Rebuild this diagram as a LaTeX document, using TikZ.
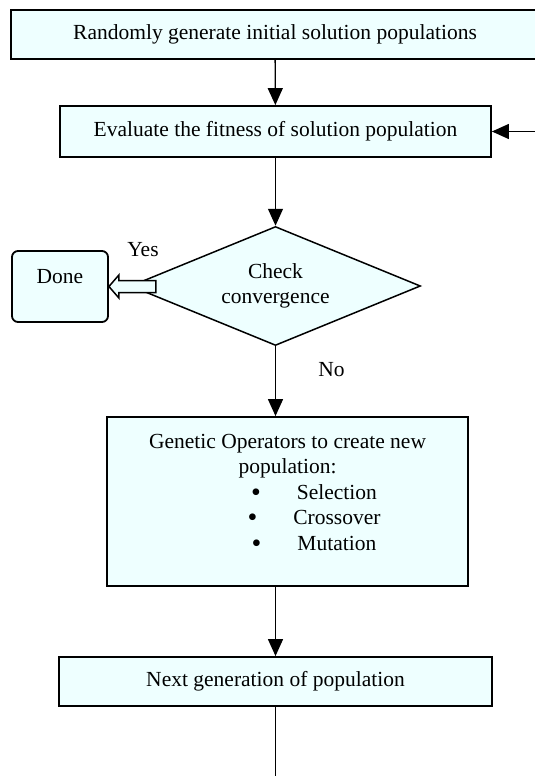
\documentclass[tikz,border=0pt]{standalone}
\usepackage{fontspec}
\setmainfont{Liberation Serif}
\usepackage{tikz}
\usetikzlibrary{shapes.geometric,arrows.meta,calc}
\definecolor{boxfill}{RGB}{238,255,255}
\newcommand{\opbullet}{\raisebox{-2pt}{\scalebox{1.3}{\textbullet}}}

\begin{document}
\begin{tikzpicture}[x=1pt,y=-1pt,
    every node/.style={font=\fontsize{21.5}{25.5}\selectfont},
    procbox/.style={draw,line width=1.8pt,fill=boxfill,inner sep=0pt},
    decision/.style={diamond,aspect=2.4,draw,line width=1.5pt,fill=boxfill,inner sep=0pt,align=center},
    donebox/.style={procbox,rounded corners=6pt},
    flow/.style={line width=1.3pt,-{Triangle[length=17pt,width=15pt]}}]
    \useasboundingbox (0,0) rectangle (535,776);
    %%主干流程框,中心线x=275.5
    \def\cx{275.5}
    \node[procbox,minimum width=528pt,minimum height=49pt] (init) at (275,34.5) {Randomly generate initial solution populations};
    \node[procbox,minimum width=431pt,minimum height=51pt] (eval) at (\cx,131.5) {Evaluate the fitness of solution population};
    \node[decision,minimum width=290pt,minimum height=119pt] (check) at (\cx,286) {Check\\convergence};
    \node[donebox,minimum width=96pt,minimum height=71pt,text height=15pt,text depth=22pt] (done) at (60,286.5) {Done};
    \node[procbox,minimum width=361pt,minimum height=169pt,align=center,text depth=19pt] (ops) at (287.5,501.5)
        {Genetic Operators to create new\\population:\\
         \hspace*{53pt}\opbullet\hspace{36pt}Selection\\
         \hspace*{53pt}\opbullet\hspace{36pt}Crossover\\
         \hspace*{53pt}\opbullet\hspace{36pt}Mutation};
    \node[procbox,minimum width=433pt,minimum height=49pt] (next) at (\cx,681.5) {Next generation of population};
    %%回环的两个端点(在图边缘之外)
    \coordinate (loopin) at (535,131.5);
    \coordinate (loopout) at (\cx,776);
    \draw[flow] (init) -- (eval);
    \draw[flow] (loopin) -- (eval.east);
    \draw[flow] (eval) -- (check);
    \draw[flow] (check.south) -- (check.south |- ops.north) node[pos=0.33,xshift=56pt] (nolbl) {No};
    \draw[flow] (ops.south -| next.north) -- (next.north);
    \draw[line width=1.3pt] (next.south) -- (loopout);
    %%空心粗箭头 Yes -> Done,压在菱形左角上
    \draw[line width=1.5pt,fill=boxfill] (done.east) -- ++(10,-11.5) -- ++(0,5.5) -- ++(37,0) -- ++(0,12)
        -- ++(-37,0) -- ++(0,5.5) -- cycle;
    \node (yeslbl) at (143,250) {Yes};
\end{tikzpicture}
\end{document}
